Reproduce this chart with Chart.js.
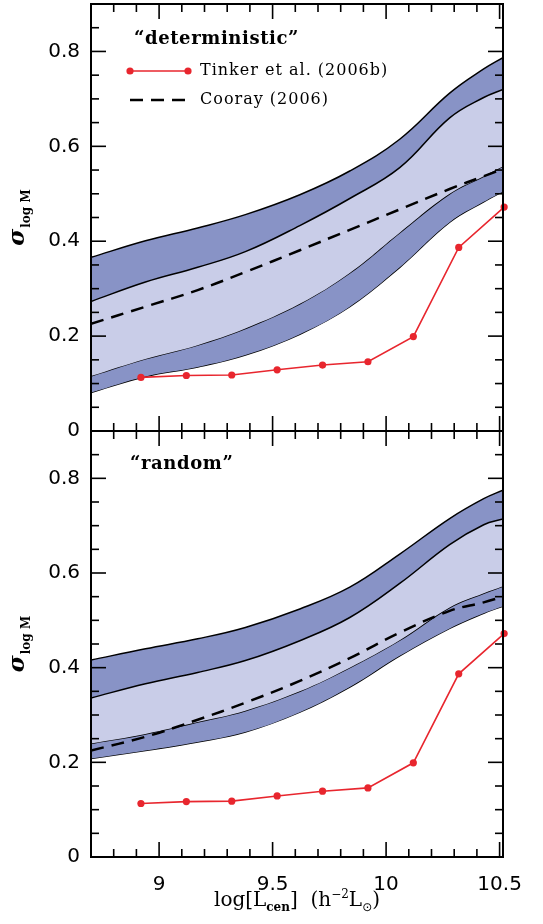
<!DOCTYPE html>
<html><head><meta charset="utf-8">
<script src="https://cdn.jsdelivr.net/npm/chart.js@4/dist/chart.umd.min.js"></script>
<style>
html,body{margin:0;padding:0;background:#fff;width:543px;height:924px;overflow:hidden}
canvas{position:absolute;left:0;top:0}
</style></head>
<body>
<canvas id="topChart" width="543" height="924"></canvas>
<canvas id="botChart" width="543" height="924"></canvas>
<script>
// ---- data ----
const xBand = [8.70, 8.94, 9.17, 9.38, 9.62, 9.84, 10.06, 10.28, 10.43, 10.515];

const detOuterHi = [0.366, 0.401, 0.428, 0.456, 0.498, 0.548, 0.615, 0.712, 0.763, 0.787];
const detInnerHi = [0.273, 0.314, 0.345, 0.378, 0.433, 0.490, 0.555, 0.660, 0.703, 0.720];
const detInnerLo = [0.116, 0.152, 0.181, 0.216, 0.268, 0.333, 0.418, 0.500, 0.537, 0.558];
const detOuterLo = [0.081, 0.115, 0.135, 0.160, 0.204, 0.262, 0.345, 0.440, 0.483, 0.505];
const detCooray  = [0.226, 0.262, 0.297, 0.335, 0.381, 0.424, 0.467, 0.510, 0.537, 0.552];

const rndOuterHi = [0.416, 0.440, 0.461, 0.485, 0.524, 0.570, 0.640, 0.715, 0.757, 0.775];
const rndInnerHi = [0.336, 0.366, 0.390, 0.415, 0.457, 0.506, 0.578, 0.660, 0.702, 0.714];
const rndInnerLo = [0.240, 0.260, 0.285, 0.309, 0.350, 0.400, 0.458, 0.527, 0.557, 0.572];
const rndOuterLo = [0.208, 0.225, 0.243, 0.264, 0.306, 0.359, 0.425, 0.483, 0.515, 0.530];
const rndCooray  = [0.225, 0.254, 0.290, 0.326, 0.372, 0.420, 0.474, 0.520, 0.538, 0.550];

const tinkerX = [8.92, 9.12, 9.32, 9.52, 9.72, 9.92, 10.12, 10.32, 10.52];
const tinkerY = [0.113, 0.117, 0.118, 0.129, 0.139, 0.146, 0.199, 0.387, 0.472];

const seriesNames = ['Tinker et al. (2006b)', 'Cooray (2006)'];
const panelLabels = ['\u201Cdeterministic\u201D', '\u201Crandom\u201D'];

// ---- styles ----
const RED = '#e8262e', DARK = '#8893c6', LIGHT = '#c9cde8';
const TICKFONT = {family:'DejaVu Sans', size:20};

const pts = (xs, ys) => xs.map((x, i) => ({x, y: ys[i]}));

const frameTicks = {
  id: 'frameTicks',
  afterDatasetsDraw(chart) {
    const {ctx, chartArea: a, scales: {x, y}} = chart;
    ctx.save();
    ctx.strokeStyle = '#000';
    ctx.lineWidth = 1.6;
    const line = (x1, y1, x2, y2) => { ctx.beginPath(); ctx.moveTo(x1, y1); ctx.lineTo(x2, y2); ctx.stroke(); };
    for (let k = Math.ceil(x.min * 10 - 1e-6); k <= Math.floor(x.max * 10 + 1e-6); k++) {
      const px = x.getPixelForValue(k / 10);
      const len = (k % 5 === 0) ? 15 : 8;
      line(px, a.bottom, px, a.bottom - len);
      line(px, a.top, px, a.top + len);
    }
    for (let k = 0; k <= 18; k++) {
      const py = y.getPixelForValue(k * 0.05);
      const len = (k % 4 === 0) ? 15 : 8;
      line(a.left, py, a.left + len, py);
      line(a.right, py, a.right - len, py);
    }
    ctx.lineWidth = 2;
    ctx.strokeRect(a.left, a.top, a.right - a.left, a.bottom - a.top);
    ctx.restore();
  }
};

const texts = {
  id: 'texts',
  afterDraw(chart, args, opts) {
    const {ctx, chartArea: a} = chart;
    ctx.save();
    ctx.fillStyle = '#000';
    ctx.textBaseline = 'alphabetic';
    ctx.textAlign = 'left';
    // panel label
    ctx.font = 'bold 18px "DejaVu Serif"';
    ctx.letterSpacing = '0.6px';
    ctx.fillText(opts.label, opts.labelX, opts.labelY);
    ctx.letterSpacing = '0px';

    // legend
    if (opts.legend) {
      const ds = chart.data.datasets;
      const y1 = a.top + 67, y2 = a.top + 96;
      ctx.strokeStyle = ds[0].borderColor; ctx.lineWidth = 1.5;
      ctx.beginPath(); ctx.moveTo(130, y1); ctx.lineTo(188, y1); ctx.stroke();
      ctx.fillStyle = ds[0].borderColor;
      [130, 188].forEach(px => { ctx.beginPath(); ctx.arc(px, y1, 3.6, 0, 2*Math.PI); ctx.fill(); });
      ctx.strokeStyle = '#000'; ctx.lineWidth = 2.5; ctx.setLineDash([13, 8]);
      ctx.beginPath(); ctx.moveTo(130, y2); ctx.lineTo(189, y2); ctx.stroke();
      ctx.setLineDash([]);
      ctx.fillStyle = '#000';
      ctx.font = '16px "DejaVu Serif"';
      ctx.letterSpacing = '1px';
      ctx.textBaseline = 'middle';
      ctx.fillText(ds[0].label, 200, y1);
      ctx.fillText(ds[1].label, 200, y2);
      ctx.letterSpacing = '0px';
    }

    // y title
    ctx.save();
    ctx.translate(22, (a.top + a.bottom) / 2);
    ctx.rotate(-Math.PI / 2);
    ctx.textBaseline = 'alphabetic';
    ctx.font = 'italic bold 23px "DejaVu Serif"';
    const sW = ctx.measureText('\u03C3').width;
    ctx.font = 'bold 12px "DejaVu Serif"';
    const subW = ctx.measureText('log M').width;
    const tot = sW + 1 + subW;
    ctx.font = 'italic bold 23px "DejaVu Serif"';
    ctx.fillText('\u03C3', -tot / 2, 2);
    ctx.font = 'bold 12px "DejaVu Serif"';
    ctx.fillText('log M', -tot / 2 + sW + 1, 8);
    ctx.restore();

    // x title
    if (opts.xTitle) {
      const base = 906;
      const parts = [
        {t: 'log[L', f: '20px "DejaVu Serif"', dy: 0},
        {t: 'cen', f: 'bold 12px "DejaVu Serif"', dy: 5},
        {t: ']  (h', f: '20px "DejaVu Serif"', dy: 0},
        {t: '\u22122', f: '12px "DejaVu Serif"', dy: -8},
        {t: 'L', f: '20px "DejaVu Serif"', dy: 0},
        {t: '\u2299', f: '12px "DejaVu Sans"', dy: 5},
        {t: ')', f: '20px "DejaVu Serif"', dy: 0}
      ];
      let w = 0;
      parts.forEach(p => { ctx.font = p.f; p.w = ctx.measureText(p.t).width; w += p.w; });
      let px = (a.left + a.right) / 2 - w / 2;
      parts.forEach(p => { ctx.font = p.f; ctx.fillText(p.t, px, base + p.dy); px += p.w; });
    }
    ctx.restore();
  }
};

function makeChart(id, bands, cooray, isBottom) {
  const [oHi, iHi, iLo, oLo] = bands;
  const bandLine = (data, fill, bg, order) => ({
    label: '', data: pts(xBand, data), borderColor: '#000', borderWidth: 1.5,
    pointRadius: 0, fill: fill, backgroundColor: bg, tension: 0.4, order
  });
  return new Chart(document.getElementById(id), {
    type: 'line',
    data: {
      datasets: [
        {label: seriesNames[0], data: pts(tinkerX, tinkerY), borderColor: RED, backgroundColor: RED,
         borderWidth: 1.6, pointRadius: 3.6, pointBorderWidth: 0, pointBackgroundColor: RED,
         fill: false, tension: 0, order: 0, clip: false},
        {label: seriesNames[1], data: pts(xBand, cooray), borderColor: '#000', borderWidth: 2.5,
         borderDash: [13, 8], pointRadius: 0, fill: false, tension: 0.4, order: 1},
        bandLine(iHi, '+1', LIGHT, 2),
        bandLine(iLo, false, LIGHT, 3),
        bandLine(oHi, '+1', DARK, 4),
        bandLine(oLo, false, DARK, 5)
      ]
    },
    options: {
      responsive: false, animation: false, devicePixelRatio: 1,
      layout: {padding: isBottom ? {top: 431, right: 40, bottom: 0, left: 0}
                                 : {top: 4, right: 40, bottom: 493, left: 0}},
      plugins: {
        legend: {display: false}, tooltip: {enabled: false},
        texts: {label: isBottom ? panelLabels[1] : panelLabels[0], labelX: isBottom ? 130 : 134,
                labelY: isBottom ? 469 : 44, legend: !isBottom, xTitle: isBottom}
      },
      scales: {
        x: {type: 'linear', min: 8.7, max: 10.515,
            grid: {display: false, drawTicks: false}, border: {display: false},
            ticks: {display: isBottom, stepSize: 0.5, includeBounds: false, padding: 16, color: '#000',
                    font: TICKFONT, maxRotation: 0, autoSkip: false,
                    callback: v => String(+v.toFixed(2))},
            afterFit: s => { s.height = isBottom ? 67 : 0; s.paddingLeft = 0; s.paddingRight = 0; }},
        y: {type: 'linear', min: 0, max: 0.9,
            grid: {display: false, drawTicks: false}, border: {display: false},
            ticks: {stepSize: 0.2, includeBounds: false, padding: 11, color: '#000', font: TICKFONT,
                    callback: v => (Math.abs(v) < 1e-9 ? '0' : v.toFixed(1))},
            afterFit: s => { s.width = 91; s.paddingTop = 0; s.paddingBottom = 0; }}
      }
    },
    plugins: [frameTicks, texts]
  });
}

makeChart('topChart', [detOuterHi, detInnerHi, detInnerLo, detOuterLo], detCooray, false);
makeChart('botChart', [rndOuterHi, rndInnerHi, rndInnerLo, rndOuterLo], rndCooray, true);
</script>
</body></html>
